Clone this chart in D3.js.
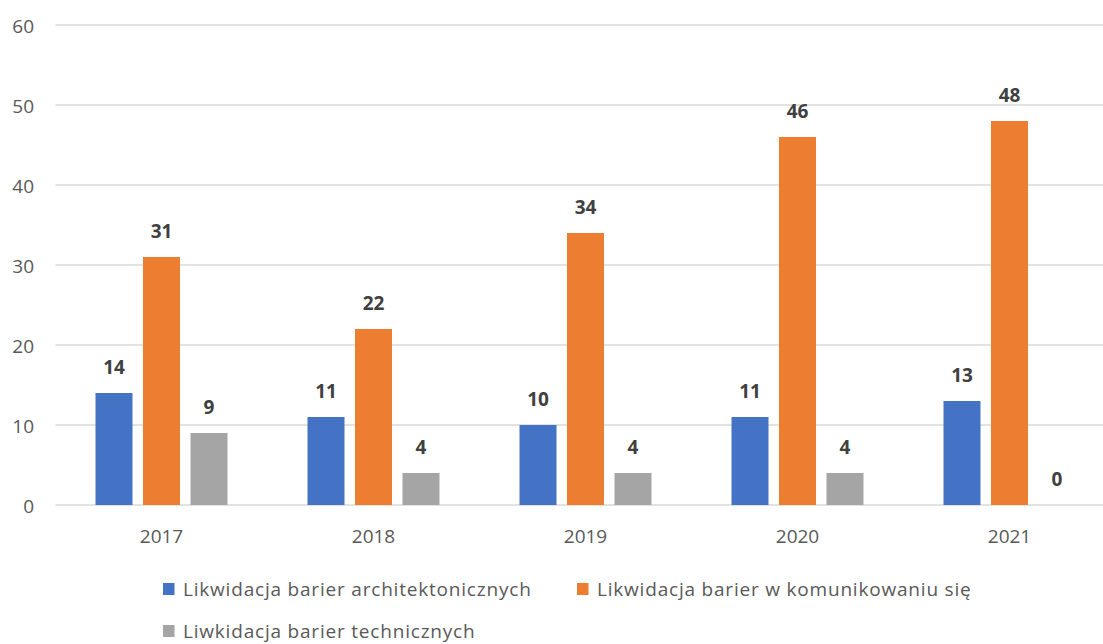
<!DOCTYPE html>
<html><head><meta charset="utf-8">
<script src="https://cdn.jsdelivr.net/npm/d3@7"></script>
<style>body{margin:0;background:#fff}svg{display:block}text{font-family:"Open Sans",Lato,sans-serif}</style>
</head><body><svg id="c" width="1103" height="644"></svg>
<script>
const categories = ["2017","2018","2019","2020","2021"];
const seriesNames = ["Likwidacja barier architektonicznych","Likwidacja barier w komunikowaniu się","Liwkidacja barier technicznych"];
const architektoniczne = [14,11,10,11,13];
const komunikowanie = [31,22,34,46,48];
const techniczne = [9,4,4,4,0];
const yTicks = [0,10,20,30,40,50,60];
const colors = ["#4472C4","#ED7D31","#A5A5A5"];

(function(){
const FONT = "'Open Sans',Lato,sans-serif";
const series = [architektoniczne, komunikowanie, techniczne];
const svg = d3.select("#c");
const pLeft = 55.5, pRight = 1115.5, pTop = 25, pBottom = 505;
const x = d3.scaleBand().domain(categories).range([pLeft,pRight]).paddingInner(0).paddingOuter(0);
const y = d3.scaleLinear().domain([0,60]).range([pBottom,pTop]);
const barW = 37, gap = 10.5;

svg.append("g").selectAll("line").data(yTicks).join("line")
  .attr("x1",pLeft).attr("x2",1103).attr("y1",d=>y(d)).attr("y2",d=>y(d))
  .attr("stroke","#D9D9D9").attr("stroke-width",1.3);
const yAxis = d3.axisLeft(y).tickValues(yTicks).tickSize(0).tickPadding(0);
const ga = svg.append("g").attr("transform","translate(34,0)").call(yAxis);
ga.select(".domain").remove();
ga.selectAll("text").attr("font-size",19).attr("fill","#595959").attr("font-family",FONT).attr("dy","7.3");

const xAxis = d3.axisBottom(x).tickSize(0).tickPadding(0);
const gx = svg.append("g").attr("transform",`translate(0,${pBottom})`).call(xAxis);
gx.select(".domain").remove();
gx.selectAll("text").attr("font-size",19).attr("fill","#595959").attr("font-family",FONT).attr("y",38).attr("dy","0");

series.forEach((vals,si)=>{
  const off = (si-1)*(barW+gap) - barW/2;
  const g = svg.append("g");
  g.selectAll("rect").data(vals).join("rect")
    .attr("x",(d,i)=>x(categories[i])+x.bandwidth()/2+off)
    .attr("width",barW)
    .attr("y",d=>y(d)).attr("height",d=>y(0)-y(d))
    .attr("fill",colors[si]);
  g.selectAll("text").data(vals).join("text")
    .attr("x",(d,i)=>x(categories[i])+x.bandwidth()/2+off+barW/2)
    .attr("y",d=>y(d)-19)
    .attr("text-anchor","middle")
    .attr("font-size",19).attr("font-weight","bold").attr("fill","#404040")
    .text(d=>d);
});

const legendPos = [[163,596],[577,596],[163,638]];
seriesNames.forEach((n,i)=>{
  const [lx,ly] = legendPos[i];
  svg.append("rect").attr("x",lx).attr("y",ly-13).attr("width",11.5).attr("height",12).attr("fill",colors[i]);
  svg.append("text").attr("x",lx+20).attr("y",ly)
    .attr("font-size",19).attr("letter-spacing","0.8px").attr("fill","#595959").text(n);
});
})();
</script></body></html>
